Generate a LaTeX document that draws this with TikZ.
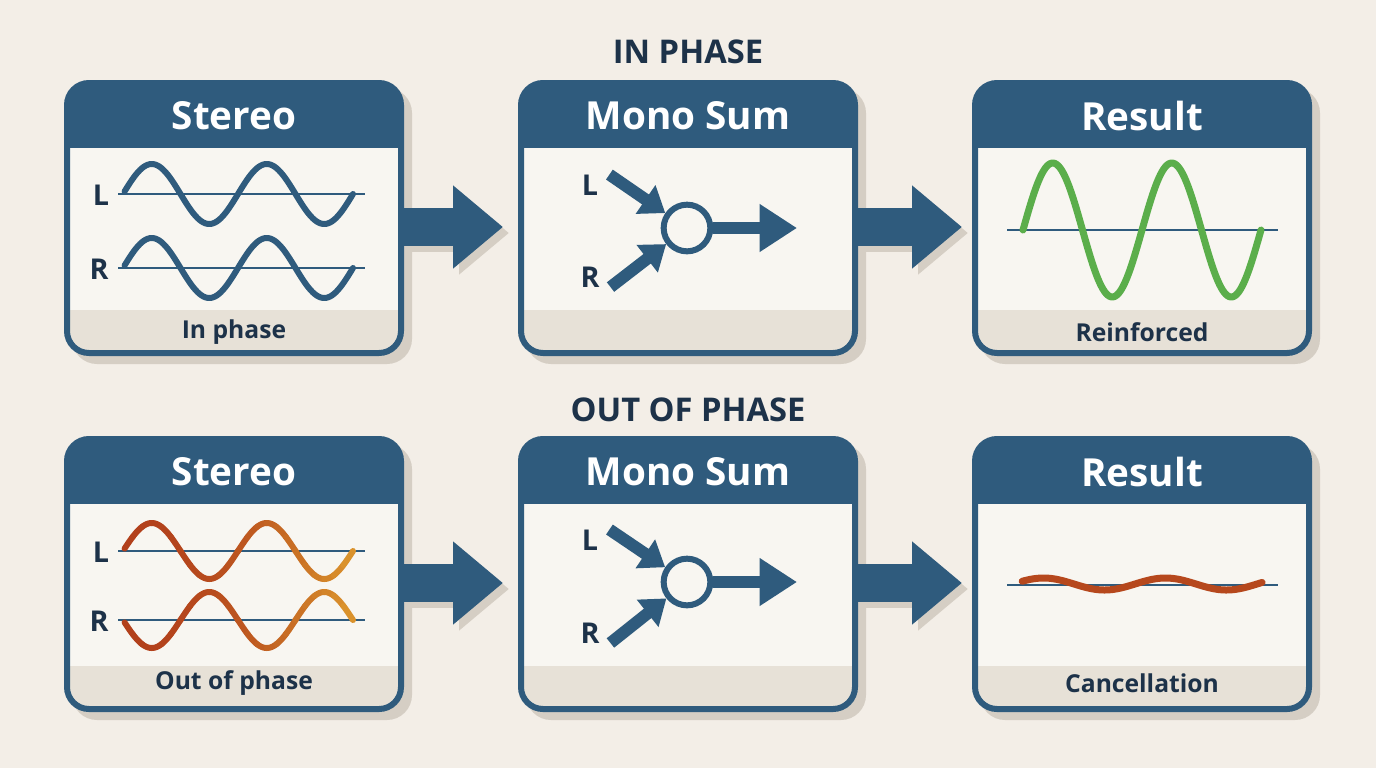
\documentclass[tikz,border=0pt]{standalone}
\usepackage{fontspec}
\setmainfont{Open Sans}
\usepackage{tikz}
\usetikzlibrary{arrows.meta,calc,backgrounds}

\definecolor{bgc}{HTML}{F3EEE7}
\definecolor{navy}{HTML}{2F5B7D}
\definecolor{inkc}{HTML}{1D3249}
\definecolor{paperc}{HTML}{F8F6F1}
\definecolor{bandc}{HTML}{E7E1D7}
\definecolor{shadowc}{HTML}{D5CEC4}
\definecolor{greenc}{HTML}{5BAE4B}
\definecolor{redc}{HTML}{B2401B}
\definecolor{orangec}{HTML}{DA922C}

\tikzset{
  panel/.style={draw=navy, line width=4.5pt, fill=paperc, rounded corners=16.5pt,
    minimum width=250.5pt, minimum height=202.5pt, inner sep=0pt,
    path picture={
      \fill[navy, sharp corners] (path picture bounding box.north west) rectangle
        ($(path picture bounding box.north east)!0.24!(path picture bounding box.south east)$);
      \fill[bandc, sharp corners] ($(path picture bounding box.north west)!0.84!(path picture bounding box.south west)$)
        rectangle (path picture bounding box.south east);
    }},
  flow/.style={navy, line width=28pt, -{Triangle[length=37.5pt,width=60pt]}},
  flowshadow/.style={flow, shadowc},
  sumnode/.style={circle, draw=navy, line width=4.5pt, fill=paperc, minimum size=35pt, inner sep=0pt},
  sumarrow/.style={navy, line width=9pt, -{Triangle[length=18pt,width=25pt]}},
  outarrow/.style={navy, line width=9pt, -{Triangle[length=28pt,width=34pt]}},
  wave/.style={line width=4.5pt, line cap=round, line join=round},
  axis/.style={navy, line width=1.5pt},
  headtxt/.style={text=white, font=\bfseries\fontsize{29}{34}\selectfont},
  foottxt/.style={text=inkc, font=\bfseries\fontsize{18.5}{22}\selectfont},
  chan/.style={text=inkc, font=\bfseries\fontsize{21.5}{24}\selectfont},
  titletxt/.style={text=inkc, font=\bfseries\fontsize{24.5}{28}\selectfont}
}

\begin{document}
\begin{tikzpicture}[x=0.75pt,y=0.75pt,yscale=-1,xscale=1]
\useasboundingbox (0,0) rectangle (1376,768);

% Text Node
\node[titletxt] (tin) at (688,52) {IN PHASE};
% Text Node
\node[titletxt] (tout) at (688,410) {OUT OF PHASE};

%Shape: Panels
\node[panel] (s1) at (234,218) {};
\node[panel] (m1) at (688,218) {};
\node[panel] (r1) at (1142,218) {};
\node[panel] (s2) at (234,574) {};
\node[panel] (m2) at (688,574) {};
\node[panel] (r2) at (1142,574) {};

\begin{scope}[on background layer]
\fill[bgc] (0,0) rectangle (1376,768);
\foreach \n in {s1,m1,r1,s2,m2,r2}
  \fill[shadowc, rounded corners=18.75pt] ($(\n.north west)+(8,8)$) rectangle ($(\n.south east)+(8,8)$);
\end{scope}

%Block arrows
\draw[flowshadow] ($(s1.east)+(6,15)$) -- ($(m1.west)+(-9,15)$);
\draw[flow] ($(s1.east)+(0,9)$) -- ($(m1.west)+(-15,9)$);
\draw[flowshadow] ($(m1.east)+(6,15)$) -- ($(r1.west)+(-4,15)$);
\draw[flow] ($(m1.east)+(0,9)$) -- ($(r1.west)+(-10,9)$);
\draw[flowshadow] ($(s2.east)+(6,15)$) -- ($(m2.west)+(-9,15)$);
\draw[flow] ($(s2.east)+(0,9)$) -- ($(m2.west)+(-15,9)$);
\draw[flowshadow] ($(m2.east)+(6,15)$) -- ($(r2.west)+(-4,15)$);
\draw[flow] ($(m2.east)+(0,9)$) -- ($(r2.west)+(-10,9)$);

% Headers and footers
\node[headtxt] (hs1) at (234,116) {Stereo};
\node[headtxt] (hm1) at (688,116) {Mono Sum};
\node[headtxt] (hr1) at (1142,116) {Result};
\node[headtxt] (hs2) at (234,472) {Stereo};
\node[headtxt] (hm2) at (688,472) {Mono Sum};
\node[headtxt] (hr2) at (1142,472) {Result};
\node[foottxt] (fs1) at (234,332) {In phase};
\node[foottxt] (fr1) at (1142,332) {Reinforced};
\node[foottxt] (fs2) at (234,683) {Out of phase};
\node[foottxt] (fr2) at (1142,683) {Cancellation};

%Stereo, in phase
\node[chan] (sl1) at (101,195) {L};
\node[chan] (sr1) at (99,269) {R};
\draw[axis] (118,194) -- (365,194);
\draw[axis] (118,268) -- (365,268);
\draw[wave, navy] plot[domain=5:720, samples=120] ({123+\x/720*230},{194-30*sin(\x)});
\draw[wave, navy] plot[domain=5:720, samples=120] ({123+\x/720*230},{268-30*sin(\x)});

%Stereo, out of phase
\node[chan] (sl2) at (101,552) {L};
\node[chan] (sr2) at (99,621) {R};
\draw[axis] (118,551) -- (365,551);
\draw[axis] (118,620) -- (365,620);
\foreach \i in {0,...,23}{
  \pgfmathsetmacro{\mixv}{100*(1-(\i/23)^2)}
  \pgfmathsetmacro{\da}{\i*30+(\i==0)*5}
  \pgfmathsetmacro{\db}{\i*30+30}
  \draw[wave, redc!\mixv!orangec] plot[domain=\da:\db, samples=8] ({123+\x/720*230},{551-28*sin(\x)});
  \draw[wave, redc!\mixv!orangec] plot[domain=\da:\db, samples=8] ({123+\x/720*230},{620+28*sin(\x)});
}

%Mono sum, in phase
\node[chan] (ml1) at (590,185) {L};
\node[chan] (mr1) at (590,277) {R};
\node[sumnode] (sum1) at (687,228) {};
\coordinate (mo1) at (797,228);
\draw[sumarrow, shorten <=6pt] (ml1.north east) -- (sum1);
\draw[sumarrow, shorten <=6pt] (mr1.south east) -- (sum1);
\draw[outarrow] (sum1) -- (mo1);

%Mono sum, out of phase
\node[chan] (ml2) at (590,540) {L};
\node[chan] (mr2) at (590,633) {R};
\node[sumnode] (sum2) at (687,582) {};
\coordinate (mo2) at (797,582);
\draw[sumarrow, shorten <=6pt] (ml2.north east) -- (sum2);
\draw[sumarrow, shorten <=6pt] (mr2.south east) -- (sum2);
\draw[outarrow] (sum2) -- (mo2);

%Result waves
\draw[axis] (1007,230) -- (1278,230);
\draw[wave, greenc, line width=5.25pt] plot[domain=0:720, samples=150] ({1023+\x/720*238},{230-67*sin(\x)});
\draw[axis] (1007,585) -- (1278,585);
\draw[wave, redc!90!orangec, line width=5.25pt] plot[domain=27:735, samples=100] ({1013+\x/360*122},{584-6*sin(\x)});

\end{tikzpicture}
\end{document}
